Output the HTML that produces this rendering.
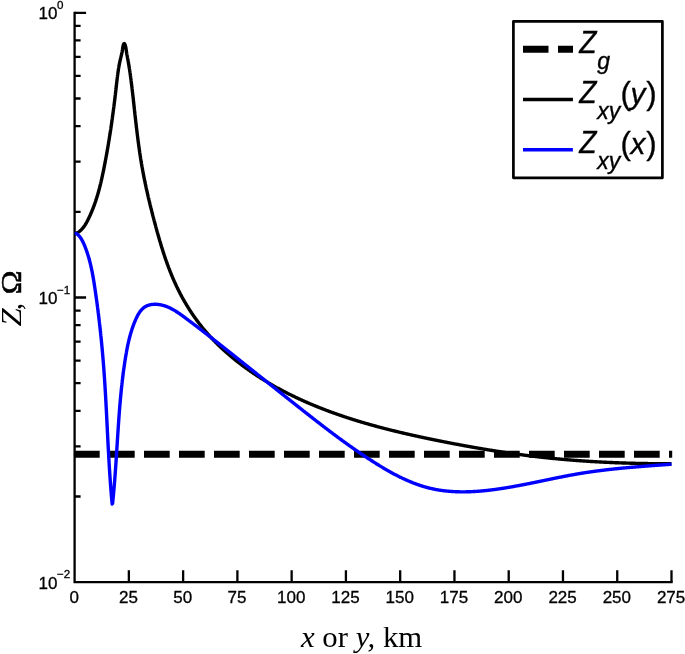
<!DOCTYPE html>
<html lang="en"><head><meta charset="utf-8"><title>Z plot</title>
<style>html,body{margin:0;padding:0;background:#fff;}body{width:685px;height:654px;position:relative;overflow:hidden;}</style></head>
<body>
<svg width="685" height="654" viewBox="0 0 685 654" style="position:absolute;left:0;top:0;filter:blur(0.4px)">
<rect width="685" height="654" fill="#fff"/>
<path d="M74,454.3 H672.2" stroke="#000" stroke-width="7" stroke-dasharray="25.7 9.3" fill="none"/>
<path d="M74.6,11.65 V582.2 H672.65" stroke="#000" stroke-width="2.3" fill="none" stroke-linejoin="miter"/>
<path d="M74.6,12.80 h11.5 M74.6,297.50 h11.5 M74.6,211.80 h6 M74.6,161.66 h6 M74.6,126.09 h6 M74.6,98.50 h6 M74.6,75.96 h6 M74.6,56.90 h6 M74.6,40.39 h6 M74.6,25.83 h6 M74.6,496.50 h6 M74.6,446.36 h6 M74.6,410.79 h6 M74.6,383.20 h6 M74.6,360.66 h6 M74.6,341.60 h6 M74.6,325.09 h6 M74.6,310.53 h6" stroke="#000" stroke-width="2.3" fill="none"/>
<path d="M128.86,582.2 v-12 M183.13,582.2 v-12 M237.39,582.2 v-12 M291.65,582.2 v-12 M345.92,582.2 v-12 M400.18,582.2 v-12 M454.45,582.2 v-12 M508.71,582.2 v-12 M562.97,582.2 v-12 M617.24,582.2 v-12 M671.50,582.2 v-12" stroke="#000" stroke-width="2.3" fill="none"/>
<path d="M74.71,233.52 L75.20,233.46 L75.68,233.36 L76.15,233.23 L76.61,233.07 L77.07,232.87 L77.52,232.65 L77.96,232.40 L78.38,232.14 L78.81,231.85 L79.22,231.55 L79.62,231.24 L80.01,230.91 L80.40,230.58 L80.77,230.23 L81.13,229.89 L81.49,229.53 L81.84,229.17 L82.17,228.80 L82.50,228.42 L82.83,228.04 L83.14,227.65 L83.45,227.26 L83.75,226.86 L84.04,226.46 L84.33,226.05 L84.61,225.64 L84.89,225.23 L85.16,224.81 L85.42,224.38 L85.68,223.95 L85.94,223.52 L86.19,223.09 L86.44,222.66 L86.68,222.22 L86.92,221.78 L87.15,221.33 L87.39,220.89 L87.62,220.44 L87.85,220.00 L88.07,219.55 L88.29,219.10 L88.52,218.65 L88.74,218.20 L88.95,217.75 L89.17,217.30 L89.38,216.85 L89.60,216.39 L89.81,215.94 L90.02,215.49 L90.22,215.03 L90.43,214.58 L90.63,214.12 L90.83,213.66 L91.03,213.20 L91.23,212.75 L91.43,212.29 L91.62,211.83 L91.81,211.37 L92.00,210.91 L92.19,210.44 L92.38,209.98 L92.57,209.52 L92.75,209.06 L92.93,208.59 L93.11,208.13 L93.29,207.66 L93.47,207.20 L93.65,206.73 L93.82,206.26 L94.00,205.79 L94.17,205.33 L94.34,204.86 L94.51,204.39 L94.67,203.92 L94.84,203.45 L95.00,202.98 L95.17,202.51 L95.33,202.03 L95.49,201.56 L95.65,201.09 L95.80,200.61 L95.96,200.14 L96.12,199.67 L96.27,199.19 L96.42,198.72 L96.57,198.24 L96.72,197.76 L96.87,197.29 L97.02,196.81 L97.16,196.33 L97.31,195.85 L97.45,195.38 L97.59,194.90 L97.73,194.42 L97.87,193.94 L98.01,193.46 L98.15,192.98 L98.28,192.50 L98.42,192.01 L98.55,191.53 L98.68,191.05 L98.82,190.57 L98.95,190.09 L99.08,189.60 L99.21,189.12 L99.33,188.64 L99.46,188.15 L99.59,187.67 L99.71,187.18 L99.83,186.70 L99.96,186.21 L100.08,185.73 L100.20,185.24 L100.32,184.76 L100.44,184.27 L100.56,183.78 L100.68,183.30 L100.79,182.81 L100.91,182.32 L101.02,181.83 L101.14,181.35 L101.25,180.86 L101.36,180.37 L101.48,179.88 L101.59,179.39 L101.70,178.90 L101.81,178.41 L101.92,177.92 L102.02,177.43 L102.13,176.95 L102.24,176.46 L102.35,175.97 L102.45,175.48 L102.56,174.98 L102.66,174.49 L102.77,174.00 L102.87,173.51 L102.97,173.02 L103.07,172.53 L103.18,172.04 L103.28,171.55 L103.38,171.06 L103.48,170.57 L103.58,170.08 L103.68,169.58 L103.78,169.09 L103.88,168.60 L103.97,168.11 L104.07,167.62 L104.17,167.13 L104.27,166.63 L104.36,166.14 L104.46,165.65 L104.56,165.16 L104.65,164.67 L104.75,164.17 L104.84,163.68 L104.94,163.19 L105.03,162.70 L105.13,162.21 L105.22,161.71 L105.31,161.22 L105.41,160.73 L105.50,160.24 L105.59,159.75 L105.68,159.25 L105.78,158.76 L105.87,158.27 L105.96,157.78 L106.05,157.28 L106.14,156.79 L106.23,156.30 L106.32,155.81 L106.41,155.31 L106.50,154.82 L106.59,154.33 L106.68,153.84 L106.77,153.34 L106.85,152.85 L106.94,152.36 L107.03,151.87 L107.12,151.37 L107.20,150.88 L107.29,150.39 L107.38,149.90 L107.46,149.40 L107.55,148.91 L107.63,148.42 L107.72,147.92 L107.80,147.43 L107.89,146.94 L107.97,146.45 L108.05,145.95 L108.14,145.46 L108.22,144.97 L108.30,144.47 L108.39,143.98 L108.47,143.49 L108.55,142.99 L108.63,142.50 L108.71,142.01 L108.79,141.51 L108.88,141.02 L108.96,140.53 L109.04,140.03 L109.12,139.54 L109.20,139.05 L109.28,138.55 L109.35,138.06 L109.43,137.57 L109.51,137.07 L109.59,136.58 L109.67,136.09 L109.75,135.59 L109.82,135.10 L109.90,134.61 L109.98,134.11 L110.06,133.62 L110.13,133.12 L110.21,132.63 L110.28,132.14 L110.36,131.64 L110.43,131.15 L110.51,130.65 L110.58,130.16 L110.66,129.67 L110.73,129.17 L110.81,128.68 L110.88,128.18 L110.96,127.69 L111.03,127.20 L111.10,126.70 L111.17,126.21 L111.25,125.71 L111.32,125.22 L111.39,124.72 L111.46,124.23 L111.53,123.74 L111.61,123.24 L111.68,122.75 L111.75,122.25 L111.82,121.76 L111.89,121.26 L111.96,120.77 L112.03,120.27 L112.10,119.78 L112.17,119.28 L112.24,118.79 L112.31,118.30 L112.37,117.80 L112.44,117.31 L112.51,116.81 L112.58,116.32 L112.65,115.82 L112.71,115.33 L112.78,114.83 L112.85,114.34 L112.92,113.84 L112.98,113.35 L113.05,112.85 L113.11,112.36 L113.18,111.86 L113.25,111.37 L113.31,110.87 L113.38,110.37 L113.44,109.88 L113.51,109.38 L113.57,108.89 L113.64,108.39 L113.70,107.90 L113.76,107.40 L113.83,106.91 L113.89,106.41 L113.95,105.92 L114.02,105.42 L114.08,104.92 L114.14,104.43 L114.21,103.93 L114.27,103.44 L114.33,102.94 L114.39,102.45 L114.45,101.95 L114.52,101.45 L114.58,100.96 L114.64,100.46 L114.70,99.97 L114.76,99.47 L114.82,98.97 L114.88,98.48 L114.94,97.98 L115.00,97.48 L115.06,96.99 L115.12,96.49 L115.18,96.00 L115.24,95.50 L115.30,95.00 L115.36,94.51 L115.41,94.01 L115.47,93.51 L115.53,93.02 L115.59,92.52 L115.65,92.02 L115.70,91.53 L115.76,91.03 L115.82,90.53 L115.88,90.04 L115.93,89.54 L115.99,89.04 L116.05,88.55 L116.10,88.05 L116.16,87.55 L116.22,87.06 L116.27,86.56 L116.33,86.06 L116.38,85.57 L116.44,85.07 L116.50,84.57 L116.55,84.07 L116.61,83.58 L116.66,83.08 L116.72,82.58 L116.78,82.09 L116.83,81.59 L116.89,81.09 L116.95,80.59 L117.00,80.10 L117.06,79.60 L117.12,79.10 L117.18,78.61 L117.24,78.11 L117.30,77.61 L117.36,77.12 L117.42,76.62 L117.49,76.13 L117.55,75.63 L117.61,75.13 L117.68,74.64 L117.74,74.14 L117.81,73.65 L117.88,73.15 L117.95,72.65 L118.02,72.16 L118.09,71.66 L118.16,71.17 L118.24,70.67 L118.31,70.18 L118.39,69.68 L118.46,69.19 L118.54,68.70 L118.62,68.20 L118.71,67.71 L118.79,67.21 L118.87,66.72 L118.96,66.23 L119.05,65.74 L119.14,65.24 L119.23,64.75 L119.33,64.26 L119.42,63.77 L119.52,63.27 L119.62,62.78 L119.72,62.29 L119.82,61.80 L119.93,61.31 L120.03,60.82 L120.14,60.33 L120.26,59.84 L120.37,59.35 L120.49,58.86 L120.60,58.37 L120.72,57.88 L120.85,57.40 L120.97,56.91 L121.09,56.42 L121.21,55.93 L121.33,55.45 L121.45,54.96 L121.56,54.48 L121.68,53.99 L121.79,53.50 L121.89,53.02 L121.99,52.53 L122.09,52.05 L122.18,51.57 L122.26,51.08 L122.34,50.60 L122.40,50.12 L122.47,49.64 L122.53,49.15 L122.59,48.66 L122.65,48.17 L122.73,47.68 L122.81,47.17 L122.91,46.66 L123.03,46.15 L123.17,45.62 L123.33,45.08 L123.52,44.54 L123.74,44.06 L123.96,43.70 L124.20,43.53 L124.44,43.61 L124.67,43.89 L124.89,44.33 L125.10,44.85 L125.28,45.39 L125.44,45.92 L125.58,46.44 L125.70,46.95 L125.80,47.45 L125.89,47.95 L125.97,48.44 L126.04,48.92 L126.11,49.41 L126.17,49.89 L126.24,50.37 L126.31,50.85 L126.38,51.34 L126.45,51.82 L126.53,52.31 L126.61,52.80 L126.69,53.29 L126.78,53.77 L126.86,54.27 L126.95,54.76 L127.04,55.25 L127.13,55.74 L127.22,56.23 L127.32,56.73 L127.41,57.22 L127.50,57.72 L127.60,58.21 L127.69,58.71 L127.78,59.20 L127.88,59.70 L127.97,60.19 L128.06,60.69 L128.15,61.18 L128.24,61.68 L128.33,62.17 L128.41,62.67 L128.50,63.16 L128.59,63.66 L128.67,64.15 L128.76,64.64 L128.84,65.14 L128.92,65.63 L129.00,66.13 L129.08,66.62 L129.16,67.12 L129.24,67.61 L129.32,68.11 L129.40,68.60 L129.47,69.10 L129.55,69.59 L129.63,70.08 L129.70,70.58 L129.78,71.07 L129.85,71.57 L129.92,72.06 L129.99,72.56 L130.07,73.05 L130.14,73.54 L130.21,74.04 L130.28,74.53 L130.35,75.03 L130.42,75.52 L130.48,76.02 L130.55,76.51 L130.62,77.00 L130.68,77.50 L130.75,77.99 L130.82,78.49 L130.88,78.98 L130.95,79.48 L131.01,79.97 L131.07,80.47 L131.14,80.96 L131.20,81.45 L131.26,81.95 L131.32,82.44 L131.39,82.94 L131.45,83.43 L131.51,83.93 L131.57,84.42 L131.63,84.92 L131.69,85.41 L131.75,85.91 L131.81,86.40 L131.87,86.90 L131.93,87.39 L131.99,87.89 L132.05,88.38 L132.10,88.88 L132.16,89.37 L132.22,89.87 L132.28,90.37 L132.33,90.86 L132.39,91.36 L132.45,91.85 L132.51,92.35 L132.56,92.84 L132.62,93.34 L132.68,93.84 L132.73,94.33 L132.79,94.83 L132.85,95.33 L132.90,95.82 L132.96,96.32 L133.01,96.81 L133.07,97.31 L133.13,97.81 L133.18,98.31 L133.24,98.80 L133.29,99.30 L133.35,99.80 L133.40,100.29 L133.46,100.79 L133.52,101.29 L133.57,101.78 L133.63,102.28 L133.68,102.78 L133.74,103.28 L133.79,103.77 L133.85,104.27 L133.90,104.77 L133.96,105.27 L134.01,105.76 L134.07,106.26 L134.12,106.76 L134.18,107.26 L134.23,107.75 L134.29,108.25 L134.34,108.75 L134.40,109.25 L134.45,109.75 L134.51,110.24 L134.56,110.74 L134.62,111.24 L134.67,111.74 L134.73,112.24 L134.78,112.73 L134.84,113.23 L134.89,113.73 L134.95,114.23 L135.00,114.73 L135.06,115.22 L135.12,115.72 L135.17,116.22 L135.23,116.72 L135.28,117.22 L135.34,117.72 L135.39,118.21 L135.45,118.71 L135.51,119.21 L135.56,119.71 L135.62,120.21 L135.68,120.70 L135.73,121.20 L135.79,121.70 L135.85,122.20 L135.90,122.70 L135.96,123.20 L136.02,123.69 L136.08,124.19 L136.13,124.69 L136.19,125.19 L136.25,125.69 L136.31,126.18 L136.36,126.68 L136.42,127.18 L136.48,127.68 L136.54,128.18 L136.60,128.67 L136.66,129.17 L136.72,129.67 L136.78,130.17 L136.84,130.67 L136.90,131.16 L136.96,131.66 L137.02,132.16 L137.08,132.66 L137.14,133.15 L137.20,133.65 L137.26,134.15 L137.32,134.65 L137.38,135.14 L137.45,135.64 L137.51,136.14 L137.57,136.64 L137.63,137.13 L137.70,137.63 L137.76,138.13 L137.82,138.62 L137.89,139.12 L137.95,139.62 L138.01,140.12 L138.08,140.61 L138.14,141.11 L138.21,141.61 L138.28,142.10 L138.34,142.60 L138.41,143.10 L138.47,143.59 L138.54,144.09 L138.61,144.58 L138.67,145.08 L138.74,145.58 L138.81,146.07 L138.88,146.57 L138.95,147.07 L139.02,147.56 L139.09,148.06 L139.16,148.55 L139.23,149.05 L139.30,149.54 L139.37,150.04 L139.44,150.53 L139.51,151.03 L139.58,151.52 L139.66,152.02 L139.73,152.51 L139.80,153.01 L139.88,153.50 L139.95,154.00 L140.02,154.49 L140.10,154.99 L140.17,155.48 L140.25,155.98 L140.33,156.47 L140.40,156.96 L140.48,157.46 L140.56,157.95 L140.64,158.44 L140.71,158.94 L140.79,159.43 L140.87,159.92 L140.95,160.42 L141.03,160.91 L141.11,161.40 L141.19,161.90 L141.28,162.39 L141.36,162.88 L141.44,163.37 L141.52,163.87 L141.61,164.36 L141.69,164.85 L141.78,165.34 L141.86,165.83 L141.95,166.32 L142.03,166.82 L142.12,167.31 L142.21,167.80 L142.29,168.29 L142.38,168.78 L142.47,169.27 L142.56,169.76 L142.65,170.25 L142.74,170.74 L142.83,171.23 L142.92,171.72 L143.01,172.21 L143.11,172.70 L143.20,173.19 L143.29,173.68 L143.39,174.17 L143.48,174.66 L143.57,175.15 L143.67,175.64 L143.76,176.13 L143.86,176.62 L143.96,177.10 L144.05,177.59 L144.15,178.08 L144.25,178.57 L144.35,179.06 L144.44,179.55 L144.54,180.04 L144.64,180.52 L144.74,181.01 L144.84,181.50 L144.94,181.99 L145.05,182.47 L145.15,182.96 L145.25,183.45 L145.35,183.94 L145.46,184.42 L145.56,184.91 L145.66,185.40 L145.77,185.89 L145.87,186.37 L145.98,186.86 L146.08,187.35 L146.19,187.83 L146.29,188.32 L146.40,188.81 L146.51,189.29 L146.62,189.78 L146.72,190.26 L146.83,190.75 L146.94,191.24 L147.05,191.72 L147.16,192.21 L147.27,192.70 L147.38,193.18 L147.49,193.67 L147.60,194.15 L147.71,194.64 L147.82,195.12 L147.94,195.61 L148.05,196.10 L148.16,196.58 L148.27,197.07 L148.39,197.55 L148.50,198.04 L148.62,198.52 L148.73,199.01 L148.85,199.49 L148.96,199.98 L149.08,200.46 L149.19,200.95 L149.31,201.43 L149.43,201.92 L149.54,202.40 L149.66,202.89 L149.78,203.37 L149.90,203.86 L150.02,204.34 L150.13,204.83 L150.25,205.31 L150.37,205.80 L150.49,206.28 L150.61,206.76 L150.73,207.25 L150.85,207.73 L150.97,208.22 L151.10,208.70 L151.22,209.19 L151.34,209.67 L151.46,210.16 L151.58,210.64 L151.71,211.12 L151.83,211.61 L151.95,212.09 L152.08,212.58 L152.20,213.06 L152.33,213.55 L152.45,214.03 L152.58,214.51 L152.70,215.00 L152.83,215.48 L152.95,215.97 L153.08,216.45 L153.20,216.94 L153.33,217.42 L153.46,217.90 L153.58,218.39 L153.71,218.87 L153.84,219.36 L153.97,219.84 L154.09,220.33 L154.22,220.81 L154.35,221.30 L154.48,221.78 L154.61,222.26 L154.74,222.75 L154.87,223.23 L155.00,223.72 L155.13,224.20 L155.26,224.69 L155.39,225.17 L155.52,225.65 L155.65,226.14 L155.78,226.62 L155.91,227.11 L156.05,227.59 L156.18,228.08 L156.31,228.56 L156.44,229.05 L156.58,229.53 L156.71,230.01 L156.84,230.50 L156.98,230.98 L157.11,231.47 L157.25,231.95 L157.38,232.44 L157.52,232.92 L157.65,233.40 L157.79,233.89 L157.92,234.37 L158.06,234.86 L158.20,235.34 L158.33,235.82 L158.47,236.31 L158.61,236.79 L158.75,237.27 L158.89,237.76 L159.03,238.24 L159.17,238.72 L159.31,239.21 L159.45,239.69 L159.59,240.17 L159.73,240.65 L159.87,241.14 L160.02,241.62 L160.16,242.10 L160.30,242.58 L160.45,243.07 L160.59,243.55 L160.73,244.03 L160.88,244.51 L161.03,244.99 L161.17,245.47 L161.32,245.95 L161.47,246.43 L161.61,246.92 L161.76,247.40 L161.91,247.88 L162.06,248.36 L162.21,248.84 L162.36,249.32 L162.51,249.80 L162.66,250.27 L162.82,250.75 L162.97,251.23 L163.12,251.71 L163.28,252.19 L163.43,252.67 L163.59,253.15 L163.74,253.62 L163.90,254.10 L164.06,254.58 L164.21,255.06 L164.37,255.53 L164.53,256.01 L164.69,256.48 L164.85,256.96 L165.01,257.44 L165.17,257.91 L165.34,258.39 L165.50,258.86 L165.66,259.34 L165.83,259.81 L165.99,260.28 L166.16,260.76 L166.32,261.23 L166.49,261.70 L166.66,262.18 L166.83,262.65 L167.00,263.12 L167.17,263.59 L167.34,264.07 L167.51,264.54 L167.68,265.01 L167.85,265.48 L168.03,265.95 L168.20,266.42 L168.38,266.89 L168.55,267.36 L168.73,267.82 L168.91,268.29 L169.09,268.76 L169.27,269.23 L169.45,269.70 L169.63,270.16 L169.81,270.63 L169.99,271.09 L170.17,271.56 L170.36,272.03 L170.54,272.49 L170.73,272.95 L170.92,273.42 L171.10,273.88 L171.29,274.35 L171.48,274.81 L171.67,275.27 L171.86,275.73 L172.06,276.19 L172.25,276.65 L172.44,277.12 L172.64,277.58 L172.83,278.03 L173.03,278.49 L173.23,278.95 L173.43,279.41 L173.63,279.87 L173.83,280.33 L174.03,280.78 L174.23,281.24 L174.44,281.69 L174.64,282.15 L174.84,282.60 L175.05,283.06 L175.26,283.51 L175.47,283.97 L175.68,284.42 L175.89,284.87 L176.10,285.32 L176.31,285.77 L176.52,286.23 L176.74,286.68 L176.95,287.12 L177.17,287.57 L177.39,288.02 L177.61,288.47 L177.83,288.92 L178.05,289.37 L178.27,289.81 L178.49,290.26 L178.71,290.70 L178.94,291.15 L179.16,291.59 L179.39,292.04 L179.62,292.48 L179.84,292.92 L180.07,293.36 L180.30,293.81 L180.54,294.25 L180.77,294.69 L181.00,295.13 L181.24,295.57 L181.47,296.00 L181.71,296.44 L181.95,296.88 L182.18,297.32 L182.42,297.75 L182.66,298.19 L182.90,298.62 L183.15,299.06 L183.39,299.49 L183.64,299.93 L183.88,300.36 L184.13,300.79 L184.37,301.22 L184.62,301.65 L184.87,302.08 L185.12,302.51 L185.37,302.94 L185.63,303.37 L185.88,303.80 L186.14,304.23 L186.39,304.65 L186.65,305.08 L186.91,305.51 L187.16,305.93 L187.42,306.35 L187.68,306.78 L187.95,307.20 L188.21,307.62 L188.47,308.04 L188.74,308.47 L189.00,308.89 L189.27,309.31 L189.54,309.72 L189.81,310.14 L190.08,310.56 L190.35,310.98 L190.62,311.39 L190.89,311.81 L191.16,312.22 L191.44,312.64 L191.72,313.05 L191.99,313.47 L192.27,313.88 L192.55,314.29 L192.83,314.70 L193.11,315.11 L193.39,315.52 L193.68,315.93 L193.96,316.34 L194.24,316.74 L194.53,317.15 L194.82,317.56 L195.11,317.96 L195.40,318.37 L195.69,318.77 L195.98,319.17 L196.27,319.58 L196.56,319.98 L196.86,320.38 L197.15,320.78 L197.45,321.18 L197.75,321.58 L198.04,321.98 L198.34,322.38 L198.64,322.77 L198.95,323.17 L199.25,323.56 L199.55,323.96 L199.86,324.35 L200.16,324.74 L200.47,325.14 L200.78,325.53 L201.09,325.92 L201.40,326.31 L201.71,326.70 L202.02,327.09 L202.33,327.48 L202.65,327.86 L202.96,328.25 L203.28,328.63 L203.59,329.02 L203.91,329.40 L204.23,329.79 L204.55,330.17 L204.87,330.55 L205.20,330.93 L205.52,331.31 L205.84,331.69 L206.17,332.07 L206.50,332.45 L206.82,332.82 L207.15,333.20 L207.48,333.57 L207.81,333.95 L208.14,334.32 L208.48,334.70 L208.81,335.07 L209.14,335.44 L209.48,335.81 L209.82,336.18 L210.15,336.55 L210.49,336.92 L210.83,337.28 L211.17,337.65 L211.51,338.02 L211.85,338.38 L212.20,338.75 L212.54,339.11 L212.89,339.47 L213.23,339.84 L213.58,340.20 L213.93,340.56 L214.28,340.92 L214.63,341.28 L214.98,341.63 L215.33,341.99 L215.68,342.35 L216.03,342.70 L216.39,343.06 L216.74,343.41 L217.10,343.77 L217.46,344.12 L217.81,344.47 L218.17,344.82 L218.53,345.17 L218.89,345.52 L219.25,345.87 L219.61,346.22 L219.98,346.56 L220.34,346.91 L220.71,347.26 L221.07,347.60 L221.44,347.95 L221.80,348.29 L222.17,348.63 L222.54,348.97 L222.91,349.31 L223.28,349.65 L223.65,349.99 L224.02,350.33 L224.40,350.67 L224.77,351.01 L225.14,351.34 L225.52,351.68 L225.89,352.01 L226.27,352.35 L226.65,352.68 L227.02,353.01 L227.40,353.35 L227.78,353.68 L228.16,354.01 L228.54,354.34 L228.93,354.67 L229.31,354.99 L229.69,355.32 L230.07,355.65 L230.46,355.97 L230.84,356.30 L231.23,356.62 L231.62,356.94 L232.00,357.27 L232.39,357.59 L232.78,357.91 L233.17,358.23 L233.56,358.55 L233.95,358.87 L234.34,359.19 L234.73,359.50 L235.13,359.82 L235.52,360.13 L235.91,360.45 L236.31,360.76 L236.70,361.08 L237.10,361.39 L237.50,361.70 L237.89,362.01 L238.29,362.32 L238.69,362.63 L239.09,362.94 L239.49,363.25 L239.89,363.56 L240.29,363.86 L240.69,364.17 L241.09,364.47 L241.49,364.78 L241.90,365.08 L242.30,365.38 L242.70,365.68 L243.11,365.98 L243.51,366.29 L243.92,366.58 L244.33,366.88 L244.73,367.18 L245.14,367.48 L245.55,367.78 L245.96,368.07 L246.37,368.37 L246.78,368.66 L247.19,368.95 L247.60,369.25 L248.01,369.54 L248.42,369.83 L248.83,370.12 L249.24,370.41 L249.66,370.70 L250.07,370.99 L250.48,371.27 L250.90,371.56 L251.31,371.85 L251.73,372.13 L252.14,372.42 L252.56,372.70 L252.98,372.98 L253.39,373.26 L253.81,373.55 L254.23,373.83 L254.65,374.11 L255.07,374.39 L255.48,374.66 L255.90,374.94 L256.32,375.22 L256.74,375.49 L257.17,375.77 L257.59,376.04 L258.01,376.32 L258.43,376.59 L258.85,376.86 L259.28,377.13 L259.70,377.41 L260.12,377.68 L260.55,377.94 L260.97,378.21 L261.39,378.48 L261.82,378.75 L262.24,379.01 L262.67,379.28 L263.10,379.54 L263.52,379.81 L263.95,380.07 L264.38,380.33 L264.80,380.60 L265.23,380.86 L265.66,381.12 L266.09,381.38 L266.52,381.64 L266.95,381.90 L267.38,382.15 L267.81,382.41 L268.24,382.67 L268.67,382.92 L269.10,383.18 L269.53,383.43 L269.96,383.68 L270.39,383.94 L270.82,384.19 L271.26,384.44 L271.69,384.69 L272.12,384.94 L272.56,385.19 L272.99,385.44 L273.42,385.68 L273.86,385.93 L274.29,386.18 L274.73,386.42 L275.16,386.67 L275.60,386.91 L276.04,387.15 L276.47,387.40 L276.91,387.64 L277.35,387.88 L277.78,388.12 L278.22,388.36 L278.66,388.60 L279.10,388.84 L279.54,389.08 L279.98,389.31 L280.42,389.55 L280.86,389.79 L281.30,390.02 L281.74,390.26 L282.18,390.49 L282.62,390.72 L283.06,390.96 L283.50,391.19 L283.94,391.42 L284.38,391.65 L284.83,391.88 L285.27,392.11 L285.71,392.34 L286.16,392.56 L286.60,392.79 L287.04,393.02 L287.49,393.24 L287.93,393.47 L288.38,393.69 L288.82,393.92 L289.27,394.14 L289.71,394.37 L290.16,394.59 L290.61,394.81 L291.05,395.03 L291.50,395.25 L291.95,395.47 L292.40,395.69 L292.84,395.91 L293.29,396.12 L293.74,396.34 L294.19,396.56 L294.64,396.77 L295.09,396.99 L295.54,397.20 L295.99,397.42 L296.44,397.63 L296.89,397.84 L297.34,398.06 L297.79,398.27 L298.24,398.48 L298.69,398.69 L299.14,398.90 L299.59,399.11 L300.05,399.32 L300.50,399.52 L300.95,399.73 L301.41,399.94 L301.86,400.14 L302.31,400.35 L302.77,400.55 L303.22,400.76 L303.67,400.96 L304.13,401.16 L304.58,401.37 L305.04,401.57 L305.49,401.77 L305.95,401.97 L306.41,402.17 L306.86,402.37 L307.32,402.57 L307.78,402.77 L308.23,402.97 L308.69,403.16 L309.15,403.36 L309.60,403.56 L310.06,403.75 L310.52,403.95 L310.98,404.14 L311.44,404.34 L311.90,404.53 L312.36,404.72 L312.82,404.91 L313.27,405.11 L313.73,405.30 L314.19,405.49 L314.65,405.68 L315.12,405.87 L315.58,406.06 L316.04,406.24 L316.50,406.43 L316.96,406.62 L317.42,406.81 L317.88,406.99 L318.35,407.18 L318.81,407.36 L319.27,407.55 L319.73,407.73 L320.20,407.91 L320.66,408.10 L321.12,408.28 L321.59,408.46 L322.05,408.64 L322.52,408.82 L322.98,409.00 L323.44,409.18 L323.91,409.36 L324.37,409.54 L324.84,409.72 L325.31,409.90 L325.77,410.07 L326.24,410.25 L326.70,410.43 L327.17,410.60 L327.64,410.78 L328.10,410.95 L328.57,411.13 L329.04,411.30 L329.50,411.47 L329.97,411.65 L330.44,411.82 L330.91,411.99 L331.37,412.16 L331.84,412.33 L332.31,412.50 L332.78,412.67 L333.25,412.84 L333.72,413.01 L334.19,413.18 L334.66,413.35 L335.13,413.51 L335.60,413.68 L336.07,413.85 L336.54,414.01 L337.01,414.18 L337.48,414.34 L337.95,414.51 L338.42,414.67 L338.89,414.83 L339.36,415.00 L339.83,415.16 L340.31,415.32 L340.78,415.48 L341.25,415.64 L341.72,415.81 L342.19,415.97 L342.67,416.13 L343.14,416.28 L343.61,416.44 L344.09,416.60 L344.56,416.76 L345.03,416.92 L345.51,417.07 L345.98,417.23 L346.45,417.39 L346.93,417.54 L347.40,417.70 L347.88,417.85 L348.35,418.01 L348.83,418.16 L349.30,418.31 L349.78,418.47 L350.25,418.62 L350.73,418.77 L351.20,418.92 L351.68,419.08 L352.15,419.23 L352.63,419.38 L353.11,419.53 L353.58,419.68 L354.06,419.83 L354.53,419.97 L355.01,420.12 L355.49,420.27 L355.97,420.42 L356.44,420.57 L356.92,420.71 L357.40,420.86 L357.88,421.01 L358.35,421.15 L358.83,421.30 L359.31,421.44 L359.79,421.58 L360.27,421.73 L360.74,421.87 L361.22,422.02 L361.70,422.16 L362.18,422.30 L362.66,422.44 L363.14,422.58 L363.62,422.72 L364.10,422.87 L364.58,423.01 L365.06,423.15 L365.54,423.29 L366.02,423.42 L366.50,423.56 L366.98,423.70 L367.46,423.84 L367.94,423.98 L368.42,424.12 L368.90,424.25 L369.38,424.39 L369.86,424.52 L370.34,424.66 L370.83,424.80 L371.31,424.93 L371.79,425.07 L372.27,425.20 L372.75,425.33 L373.24,425.47 L373.72,425.60 L374.20,425.73 L374.68,425.87 L375.16,426.00 L375.65,426.13 L376.13,426.26 L376.61,426.39 L377.10,426.52 L377.58,426.65 L378.06,426.78 L378.55,426.91 L379.03,427.04 L379.51,427.17 L380.00,427.30 L380.48,427.43 L380.96,427.56 L381.45,427.69 L381.93,427.81 L382.42,427.94 L382.90,428.07 L383.38,428.19 L383.87,428.32 L384.35,428.45 L384.84,428.57 L385.32,428.70 L385.81,428.82 L386.29,428.95 L386.78,429.07 L387.26,429.19 L387.75,429.32 L388.23,429.44 L388.72,429.56 L389.20,429.69 L389.69,429.81 L390.18,429.93 L390.66,430.05 L391.15,430.17 L391.63,430.29 L392.12,430.41 L392.61,430.53 L393.09,430.65 L393.58,430.77 L394.07,430.89 L394.55,431.01 L395.04,431.13 L395.53,431.25 L396.01,431.37 L396.50,431.49 L396.99,431.60 L397.47,431.72 L397.96,431.84 L398.45,431.96 L398.94,432.07 L399.42,432.19 L399.91,432.31 L400.40,432.42 L400.89,432.54 L401.37,432.65 L401.86,432.77 L402.35,432.88 L402.84,433.00 L403.32,433.11 L403.81,433.22 L404.30,433.34 L404.79,433.45 L405.28,433.56 L405.77,433.68 L406.25,433.79 L406.74,433.90 L407.23,434.01 L407.72,434.13 L408.21,434.24 L408.70,434.35 L409.19,434.46 L409.67,434.57 L410.16,434.68 L410.65,434.79 L411.14,434.90 L411.63,435.01 L412.12,435.12 L412.61,435.23 L413.10,435.34 L413.59,435.45 L414.08,435.56 L414.57,435.67 L415.06,435.77 L415.54,435.88 L416.03,435.99 L416.52,436.10 L417.01,436.20 L417.50,436.31 L417.99,436.42 L418.48,436.52 L418.97,436.63 L419.46,436.74 L419.95,436.84 L420.44,436.95 L420.93,437.05 L421.42,437.16 L421.91,437.26 L422.40,437.37 L422.89,437.47 L423.38,437.58 L423.87,437.68 L424.36,437.79 L424.85,437.89 L425.34,437.99 L425.83,438.10 L426.33,438.20 L426.82,438.30 L427.31,438.41 L427.80,438.51 L428.29,438.61 L428.78,438.71 L429.27,438.82 L429.76,438.92 L430.25,439.02 L430.74,439.12 L431.23,439.22 L431.72,439.32 L432.21,439.43 L432.70,439.53 L433.19,439.63 L433.68,439.73 L434.18,439.83 L434.67,439.93 L435.16,440.03 L435.65,440.13 L436.14,440.23 L436.63,440.33 L437.12,440.43 L437.61,440.52 L438.10,440.62 L438.59,440.72 L439.09,440.82 L439.58,440.92 L440.07,441.02 L440.56,441.12 L441.05,441.21 L441.54,441.31 L442.03,441.41 L442.52,441.51 L443.01,441.60 L443.50,441.70 L444.00,441.80 L444.49,441.90 L444.98,441.99 L445.47,442.09 L445.96,442.19 L446.45,442.28 L446.94,442.38 L447.43,442.47 L447.93,442.57 L448.42,442.67 L448.91,442.76 L449.40,442.86 L449.89,442.95 L450.38,443.05 L450.87,443.14 L451.36,443.24 L451.86,443.33 L452.35,443.42 L452.84,443.52 L453.33,443.61 L453.82,443.71 L454.31,443.80 L454.80,443.89 L455.29,443.99 L455.79,444.08 L456.28,444.17 L456.77,444.27 L457.26,444.36 L457.75,444.45 L458.24,444.54 L458.73,444.63 L459.23,444.73 L459.72,444.82 L460.21,444.91 L460.70,445.00 L461.19,445.09 L461.68,445.18 L462.18,445.27 L462.67,445.36 L463.16,445.46 L463.65,445.55 L464.14,445.64 L464.63,445.73 L465.13,445.82 L465.62,445.91 L466.11,445.99 L466.60,446.08 L467.09,446.17 L467.58,446.26 L468.08,446.35 L468.57,446.44 L469.06,446.53 L469.55,446.62 L470.04,446.70 L470.54,446.79 L471.03,446.88 L471.52,446.97 L472.01,447.05 L472.50,447.14 L473.00,447.23 L473.49,447.31 L473.98,447.40 L474.47,447.49 L474.96,447.57 L475.46,447.66 L475.95,447.74 L476.44,447.83 L476.93,447.91 L477.43,448.00 L477.92,448.08 L478.41,448.17 L478.90,448.25 L479.39,448.34 L479.89,448.42 L480.38,448.51 L480.87,448.59 L481.36,448.67 L481.86,448.76 L482.35,448.84 L482.84,448.92 L483.33,449.01 L483.83,449.09 L484.32,449.17 L484.81,449.25 L485.30,449.33 L485.80,449.42 L486.29,449.50 L486.78,449.58 L487.27,449.66 L487.77,449.74 L488.26,449.82 L488.75,449.90 L489.25,449.98 L489.74,450.06 L490.23,450.14 L490.72,450.22 L491.22,450.30 L491.71,450.38 L492.20,450.46 L492.70,450.54 L493.19,450.62 L493.68,450.70 L494.18,450.77 L494.67,450.85 L495.16,450.93 L495.65,451.01 L496.15,451.09 L496.64,451.16 L497.13,451.24 L497.63,451.32 L498.12,451.39 L498.61,451.47 L499.11,451.55 L499.60,451.62 L500.09,451.70 L500.59,451.77 L501.08,451.85 L501.57,451.92 L502.07,452.00 L502.56,452.07 L503.06,452.15 L503.55,452.22 L504.04,452.29 L504.54,452.37 L505.03,452.44 L505.52,452.52 L506.02,452.59 L506.51,452.66 L507.01,452.73 L507.50,452.81 L507.99,452.88 L508.49,452.95 L508.98,453.02 L509.48,453.09 L509.97,453.16 L510.46,453.24 L510.96,453.31 L511.45,453.38 L511.95,453.45 L512.44,453.52 L512.93,453.59 L513.43,453.66 L513.92,453.73 L514.42,453.80 L514.91,453.86 L515.41,453.93 L515.90,454.00 L516.40,454.07 L516.89,454.14 L517.38,454.21 L517.88,454.27 L518.37,454.34 L518.87,454.41 L519.36,454.47 L519.86,454.54 L520.35,454.61 L520.85,454.67 L521.34,454.74 L521.84,454.80 L522.33,454.87 L522.83,454.94 L523.32,455.00 L523.82,455.07 L524.31,455.13 L524.81,455.19 L525.30,455.26 L525.80,455.32 L526.29,455.38 L526.79,455.45 L527.28,455.51 L527.78,455.57 L528.27,455.64 L528.77,455.70 L529.27,455.76 L529.76,455.82 L530.26,455.88 L530.75,455.95 L531.25,456.01 L531.74,456.07 L532.24,456.13 L532.73,456.19 L533.23,456.25 L533.73,456.31 L534.22,456.37 L534.72,456.43 L535.21,456.49 L535.71,456.54 L536.21,456.60 L536.70,456.66 L537.20,456.72 L537.69,456.78 L538.19,456.83 L538.69,456.89 L539.18,456.95 L539.68,457.00 L540.18,457.06 L540.67,457.12 L541.17,457.17 L541.67,457.23 L542.16,457.28 L542.66,457.34 L543.16,457.39 L543.65,457.45 L544.15,457.50 L544.65,457.56 L545.14,457.61 L545.64,457.66 L546.14,457.72 L546.63,457.77 L547.13,457.82 L547.63,457.88 L548.12,457.93 L548.62,457.98 L549.12,458.03 L549.62,458.08 L550.11,458.14 L550.61,458.19 L551.11,458.24 L551.61,458.29 L552.10,458.34 L552.60,458.39 L553.10,458.44 L553.60,458.49 L554.09,458.53 L554.59,458.58 L555.09,458.63 L555.59,458.68 L556.08,458.73 L556.58,458.78 L557.08,458.82 L557.58,458.87 L558.08,458.92 L558.57,458.96 L559.07,459.01 L559.57,459.06 L560.07,459.10 L560.57,459.15 L561.07,459.19 L561.56,459.24 L562.06,459.28 L562.56,459.33 L563.06,459.37 L563.56,459.42 L564.06,459.46 L564.55,459.50 L565.05,459.55 L565.55,459.59 L566.05,459.63 L566.55,459.68 L567.05,459.72 L567.55,459.76 L568.04,459.80 L568.54,459.84 L569.04,459.89 L569.54,459.93 L570.04,459.97 L570.54,460.01 L571.04,460.05 L571.54,460.09 L572.04,460.13 L572.53,460.17 L573.03,460.21 L573.53,460.25 L574.03,460.28 L574.53,460.32 L575.03,460.36 L575.53,460.40 L576.03,460.44 L576.53,460.48 L577.03,460.51 L577.53,460.55 L578.03,460.59 L578.53,460.62 L579.02,460.66 L579.52,460.70 L580.02,460.73 L580.52,460.77 L581.02,460.80 L581.52,460.84 L582.02,460.87 L582.52,460.91 L583.02,460.94 L583.52,460.98 L584.02,461.01 L584.52,461.04 L585.02,461.08 L585.52,461.11 L586.02,461.14 L586.52,461.18 L587.02,461.21 L587.52,461.24 L588.02,461.27 L588.52,461.31 L589.02,461.34 L589.52,461.37 L590.02,461.40 L590.52,461.43 L591.02,461.46 L591.52,461.49 L592.02,461.52 L592.52,461.55 L593.02,461.58 L593.52,461.61 L594.02,461.64 L594.52,461.67 L595.02,461.70 L595.52,461.73 L596.02,461.76 L596.52,461.78 L597.02,461.81 L597.52,461.84 L598.02,461.87 L598.52,461.90 L599.02,461.92 L599.52,461.95 L600.02,461.98 L600.52,462.00 L601.02,462.03 L601.52,462.05 L602.02,462.08 L602.52,462.11 L603.02,462.13 L603.52,462.16 L604.02,462.18 L604.52,462.21 L605.02,462.23 L605.52,462.26 L606.02,462.28 L606.52,462.30 L607.02,462.33 L607.52,462.35 L608.02,462.37 L608.52,462.40 L609.02,462.42 L609.52,462.44 L610.02,462.46 L610.52,462.49 L611.02,462.51 L611.52,462.53 L612.02,462.55 L612.52,462.57 L613.02,462.59 L613.53,462.61 L614.03,462.63 L614.53,462.66 L615.03,462.68 L615.53,462.70 L616.03,462.72 L616.53,462.74 L617.03,462.75 L617.53,462.77 L618.03,462.79 L618.53,462.81 L619.03,462.83 L619.53,462.85 L620.03,462.87 L620.53,462.88 L621.03,462.90 L621.53,462.92 L622.03,462.94 L622.53,462.95 L623.03,462.97 L623.53,462.99 L624.03,463.00 L624.53,463.02 L625.03,463.04 L625.53,463.05 L626.03,463.07 L626.53,463.08 L627.03,463.10 L627.53,463.12 L628.03,463.13 L628.53,463.15 L629.03,463.16 L629.53,463.17 L630.03,463.19 L630.53,463.20 L631.03,463.22 L631.53,463.23 L632.03,463.24 L632.53,463.26 L633.03,463.27 L633.53,463.28 L634.03,463.30 L634.53,463.31 L635.03,463.32 L635.53,463.33 L636.03,463.34 L636.53,463.36 L637.03,463.37 L637.53,463.38 L638.03,463.39 L638.53,463.40 L639.03,463.41 L639.53,463.42 L640.03,463.43 L640.53,463.44 L641.03,463.45 L641.53,463.46 L642.03,463.47 L642.53,463.48 L643.03,463.49 L643.53,463.50 L644.03,463.51 L644.53,463.52 L645.03,463.53 L645.53,463.54 L646.03,463.54 L646.53,463.55 L647.03,463.56 L647.53,463.57 L648.03,463.58 L648.53,463.58 L649.03,463.59 L649.53,463.60 L650.03,463.60 L650.52,463.61 L651.02,463.62 L651.52,463.62 L652.02,463.63 L652.52,463.64 L653.02,463.64 L653.52,463.65 L654.02,463.65 L654.52,463.66 L655.02,463.66 L655.52,463.67 L656.02,463.67 L656.51,463.68 L657.01,463.68 L657.51,463.69 L658.01,463.69 L658.51,463.69 L659.01,463.70 L659.51,463.70 L660.01,463.70 L660.51,463.71 L661.00,463.71 L661.50,463.71 L662.00,463.72 L662.50,463.72 L663.00,463.72 L663.50,463.72 L664.00,463.73 L664.49,463.73 L664.99,463.73 L665.49,463.73 L665.99,463.73 L666.49,463.73 L666.99,463.74 L667.48,463.74 L667.98,463.74 L668.48,463.74 L668.98,463.74 L669.48,463.74 L669.98,463.74 L670.47,463.74 L670.97,463.74 L671.47,463.74" stroke="#000" stroke-width="3.4" fill="none" stroke-linejoin="round" stroke-linecap="butt"/>
<path d="M74.68,233.51 L75.24,233.50 L75.77,233.56 L76.25,233.68 L76.71,233.86 L77.14,234.10 L77.54,234.37 L77.91,234.68 L78.27,235.02 L78.61,235.38 L78.94,235.75 L79.26,236.14 L79.58,236.53 L79.88,236.92 L80.18,237.32 L80.46,237.73 L80.74,238.14 L81.02,238.56 L81.29,238.98 L81.55,239.41 L81.80,239.84 L82.05,240.27 L82.29,240.71 L82.53,241.16 L82.76,241.60 L82.98,242.05 L83.20,242.50 L83.42,242.96 L83.63,243.42 L83.84,243.88 L84.04,244.34 L84.24,244.80 L84.44,245.27 L84.63,245.73 L84.82,246.20 L85.01,246.67 L85.19,247.14 L85.38,247.61 L85.56,248.08 L85.73,248.55 L85.91,249.03 L86.08,249.50 L86.26,249.97 L86.42,250.44 L86.59,250.92 L86.76,251.39 L86.92,251.87 L87.08,252.34 L87.24,252.82 L87.40,253.30 L87.55,253.77 L87.70,254.25 L87.85,254.73 L88.00,255.21 L88.15,255.68 L88.30,256.16 L88.44,256.64 L88.58,257.12 L88.72,257.60 L88.86,258.08 L88.99,258.57 L89.13,259.05 L89.26,259.53 L89.39,260.01 L89.52,260.50 L89.65,260.98 L89.77,261.46 L89.90,261.95 L90.02,262.43 L90.14,262.92 L90.26,263.40 L90.38,263.89 L90.50,264.37 L90.61,264.86 L90.73,265.35 L90.84,265.83 L90.95,266.32 L91.06,266.81 L91.17,267.29 L91.28,267.78 L91.38,268.27 L91.49,268.76 L91.59,269.25 L91.69,269.74 L91.79,270.23 L91.89,270.72 L91.99,271.21 L92.09,271.70 L92.19,272.19 L92.28,272.68 L92.38,273.17 L92.47,273.66 L92.56,274.15 L92.65,274.64 L92.74,275.14 L92.83,275.63 L92.92,276.12 L93.01,276.61 L93.10,277.11 L93.18,277.60 L93.27,278.09 L93.35,278.58 L93.44,279.08 L93.52,279.57 L93.60,280.06 L93.69,280.56 L93.77,281.05 L93.85,281.55 L93.93,282.04 L94.01,282.54 L94.09,283.03 L94.16,283.52 L94.24,284.02 L94.32,284.51 L94.40,285.01 L94.47,285.50 L94.55,286.00 L94.62,286.49 L94.70,286.99 L94.77,287.48 L94.85,287.98 L94.92,288.47 L95.00,288.97 L95.07,289.46 L95.14,289.96 L95.22,290.46 L95.29,290.95 L95.36,291.45 L95.43,291.94 L95.51,292.44 L95.58,292.93 L95.65,293.43 L95.72,293.92 L95.79,294.42 L95.86,294.92 L95.93,295.41 L96.00,295.91 L96.07,296.40 L96.14,296.90 L96.21,297.40 L96.28,297.89 L96.35,298.39 L96.42,298.88 L96.49,299.38 L96.56,299.88 L96.63,300.37 L96.70,300.87 L96.76,301.36 L96.83,301.86 L96.90,302.36 L96.96,302.85 L97.03,303.35 L97.10,303.85 L97.16,304.34 L97.23,304.84 L97.30,305.34 L97.36,305.83 L97.43,306.33 L97.49,306.82 L97.56,307.32 L97.62,307.82 L97.69,308.31 L97.75,308.81 L97.81,309.31 L97.88,309.81 L97.94,310.30 L98.00,310.80 L98.07,311.30 L98.13,311.79 L98.19,312.29 L98.25,312.79 L98.32,313.28 L98.38,313.78 L98.44,314.28 L98.50,314.77 L98.56,315.27 L98.62,315.77 L98.68,316.27 L98.74,316.76 L98.80,317.26 L98.86,317.76 L98.92,318.25 L98.98,318.75 L99.04,319.25 L99.10,319.75 L99.16,320.24 L99.22,320.74 L99.28,321.24 L99.33,321.74 L99.39,322.23 L99.45,322.73 L99.51,323.23 L99.56,323.73 L99.62,324.22 L99.68,324.72 L99.73,325.22 L99.79,325.72 L99.85,326.22 L99.90,326.71 L99.96,327.21 L100.01,327.71 L100.07,328.21 L100.12,328.70 L100.18,329.20 L100.23,329.70 L100.28,330.20 L100.34,330.70 L100.39,331.19 L100.45,331.69 L100.50,332.19 L100.55,332.69 L100.60,333.19 L100.66,333.68 L100.71,334.18 L100.76,334.68 L100.81,335.18 L100.86,335.68 L100.92,336.17 L100.97,336.67 L101.02,337.17 L101.07,337.67 L101.12,338.17 L101.17,338.67 L101.22,339.16 L101.27,339.66 L101.32,340.16 L101.37,340.66 L101.42,341.16 L101.47,341.66 L101.52,342.16 L101.56,342.65 L101.61,343.15 L101.66,343.65 L101.71,344.15 L101.76,344.65 L101.80,345.15 L101.85,345.65 L101.90,346.14 L101.94,346.64 L101.99,347.14 L102.04,347.64 L102.08,348.14 L102.13,348.64 L102.18,349.14 L102.22,349.64 L102.27,350.13 L102.31,350.63 L102.36,351.13 L102.40,351.63 L102.44,352.13 L102.49,352.63 L102.53,353.13 L102.58,353.63 L102.62,354.13 L102.66,354.62 L102.71,355.12 L102.75,355.62 L102.79,356.12 L102.84,356.62 L102.88,357.12 L102.92,357.62 L102.96,358.12 L103.00,358.62 L103.04,359.12 L103.09,359.62 L103.13,360.11 L103.17,360.61 L103.21,361.11 L103.25,361.61 L103.29,362.11 L103.33,362.61 L103.37,363.11 L103.41,363.61 L103.45,364.11 L103.49,364.61 L103.53,365.11 L103.56,365.61 L103.60,366.11 L103.64,366.61 L103.68,367.10 L103.72,367.60 L103.76,368.10 L103.79,368.60 L103.83,369.10 L103.87,369.60 L103.90,370.10 L103.94,370.60 L103.98,371.10 L104.01,371.60 L104.05,372.10 L104.09,372.60 L104.12,373.10 L104.16,373.60 L104.19,374.10 L104.23,374.60 L104.26,375.10 L104.30,375.60 L104.33,376.10 L104.37,376.60 L104.40,377.10 L104.43,377.60 L104.47,378.10 L104.50,378.59 L104.54,379.09 L104.57,379.59 L104.60,380.09 L104.64,380.59 L104.67,381.09 L104.70,381.59 L104.73,382.09 L104.77,382.59 L104.80,383.09 L104.83,383.59 L104.86,384.09 L104.89,384.59 L104.92,385.09 L104.96,385.59 L104.99,386.09 L105.02,386.59 L105.05,387.09 L105.08,387.59 L105.11,388.09 L105.14,388.59 L105.17,389.09 L105.20,389.59 L105.23,390.09 L105.26,390.59 L105.29,391.09 L105.32,391.59 L105.35,392.09 L105.38,392.59 L105.41,393.09 L105.44,393.59 L105.47,394.09 L105.50,394.59 L105.52,395.09 L105.55,395.59 L105.58,396.09 L105.61,396.59 L105.64,397.09 L105.67,397.59 L105.69,398.09 L105.72,398.59 L105.75,399.09 L105.78,399.59 L105.81,400.09 L105.83,400.59 L105.86,401.09 L105.89,401.59 L105.92,402.09 L105.94,402.59 L105.97,403.09 L106.00,403.59 L106.02,404.09 L106.05,404.59 L106.08,405.09 L106.10,405.59 L106.13,406.09 L106.16,406.59 L106.18,407.09 L106.21,407.59 L106.24,408.09 L106.26,408.59 L106.29,409.09 L106.31,409.59 L106.34,410.09 L106.37,410.59 L106.39,411.09 L106.42,411.59 L106.44,412.09 L106.47,412.59 L106.50,413.09 L106.52,413.59 L106.55,414.09 L106.57,414.59 L106.60,415.10 L106.62,415.60 L106.65,416.10 L106.67,416.60 L106.70,417.10 L106.72,417.60 L106.75,418.10 L106.78,418.60 L106.80,419.10 L106.83,419.60 L106.85,420.10 L106.88,420.60 L106.90,421.10 L106.93,421.60 L106.95,422.10 L106.98,422.60 L107.00,423.10 L107.03,423.60 L107.05,424.10 L107.08,424.60 L107.10,425.10 L107.13,425.60 L107.15,426.10 L107.18,426.60 L107.20,427.10 L107.23,427.60 L107.25,428.10 L107.28,428.60 L107.30,429.10 L107.33,429.60 L107.35,430.10 L107.38,430.60 L107.40,431.10 L107.43,431.60 L107.45,432.10 L107.48,432.60 L107.50,433.10 L107.53,433.60 L107.55,434.10 L107.58,434.60 L107.60,435.10 L107.63,435.60 L107.65,436.10 L107.68,436.60 L107.70,437.10 L107.73,437.60 L107.75,438.10 L107.78,438.60 L107.80,439.10 L107.83,439.60 L107.86,440.10 L107.88,440.60 L107.91,441.10 L107.93,441.60 L107.96,442.10 L107.98,442.60 L108.01,443.10 L108.04,443.60 L108.06,444.10 L108.09,444.60 L108.11,445.10 L108.14,445.60 L108.17,446.10 L108.19,446.60 L108.22,447.10 L108.24,447.60 L108.27,448.10 L108.30,448.60 L108.32,449.10 L108.35,449.60 L108.38,450.10 L108.41,450.60 L108.43,451.10 L108.46,451.60 L108.49,452.10 L108.51,452.60 L108.54,453.10 L108.57,453.60 L108.60,454.10 L108.62,454.60 L108.65,455.10 L108.68,455.60 L108.71,456.10 L108.74,456.60 L108.76,457.10 L108.79,457.60 L108.82,458.10 L108.85,458.60 L108.88,459.10 L108.91,459.60 L108.94,460.10 L108.96,460.60 L108.99,461.10 L109.02,461.60 L109.05,462.10 L109.08,462.60 L109.11,463.10 L109.14,463.60 L109.17,464.10 L109.20,464.60 L109.23,465.10 L109.26,465.60 L109.29,466.10 L109.32,466.60 L109.35,467.10 L109.38,467.60 L109.41,468.10 L109.45,468.60 L109.48,469.10 L109.51,469.60 L109.54,470.10 L109.57,470.59 L109.60,471.09 L109.64,471.59 L109.67,472.09 L109.70,472.59 L109.73,473.09 L109.77,473.59 L109.80,474.09 L109.83,474.59 L109.87,475.09 L109.90,475.59 L109.93,476.09 L109.97,476.59 L110.00,477.09 L110.03,477.59 L110.07,478.09 L110.10,478.59 L110.14,479.08 L110.17,479.58 L110.21,480.08 L110.24,480.58 L110.28,481.08 L110.31,481.58 L110.35,482.08 L110.39,482.58 L110.42,483.08 L110.46,483.58 L110.50,484.08 L110.53,484.58 L110.57,485.08 L110.61,485.57 L110.64,486.07 L110.68,486.57 L110.72,487.07 L110.76,487.57 L110.80,488.07 L110.84,488.57 L110.87,489.07 L110.91,489.57 L110.95,490.07 L110.99,490.56 L111.03,491.06 L111.07,491.56 L111.11,492.06 L111.15,492.56 L111.19,493.06 L111.24,493.56 L111.28,494.06 L111.32,494.56 L111.36,495.05 L111.40,495.55 L111.44,496.05 L111.49,496.55 L111.53,497.05 L111.57,497.55 L111.62,498.05 L111.66,498.54 L111.70,499.04 L111.75,499.54 L111.79,500.04 L111.84,500.54 L111.88,501.04 L111.93,501.54 L111.97,502.03 L112.02,502.53 L112.06,503.03 L112.11,503.53 L112.15,504.03 L112.57,503.53 L112.63,503.03 L112.68,502.53 L112.73,502.03 L112.78,501.53 L112.83,501.03 L112.88,500.53 L112.93,500.03 L112.98,499.53 L113.03,499.03 L113.08,498.53 L113.13,498.03 L113.18,497.53 L113.23,497.03 L113.28,496.53 L113.32,496.03 L113.37,495.53 L113.42,495.03 L113.47,494.54 L113.51,494.04 L113.56,493.54 L113.61,493.04 L113.65,492.54 L113.70,492.04 L113.74,491.54 L113.79,491.04 L113.83,490.55 L113.87,490.05 L113.92,489.55 L113.96,489.05 L114.01,488.55 L114.05,488.05 L114.09,487.55 L114.13,487.06 L114.18,486.56 L114.22,486.06 L114.26,485.56 L114.30,485.06 L114.34,484.56 L114.38,484.07 L114.43,483.57 L114.47,483.07 L114.51,482.57 L114.55,482.07 L114.59,481.58 L114.63,481.08 L114.67,480.58 L114.71,480.08 L114.74,479.58 L114.78,479.09 L114.82,478.59 L114.86,478.09 L114.90,477.59 L114.94,477.09 L114.97,476.60 L115.01,476.10 L115.05,475.60 L115.09,475.10 L115.12,474.60 L115.16,474.11 L115.20,473.61 L115.23,473.11 L115.27,472.61 L115.31,472.12 L115.34,471.62 L115.38,471.12 L115.41,470.62 L115.45,470.13 L115.48,469.63 L115.52,469.13 L115.55,468.63 L115.59,468.13 L115.62,467.64 L115.66,467.14 L115.69,466.64 L115.73,466.14 L115.76,465.65 L115.80,465.15 L115.83,464.65 L115.86,464.15 L115.90,463.66 L115.93,463.16 L115.97,462.66 L116.00,462.16 L116.03,461.66 L116.07,461.17 L116.10,460.67 L116.13,460.17 L116.16,459.67 L116.20,459.18 L116.23,458.68 L116.26,458.18 L116.30,457.68 L116.33,457.18 L116.36,456.69 L116.39,456.19 L116.43,455.69 L116.46,455.19 L116.49,454.70 L116.52,454.20 L116.55,453.70 L116.59,453.20 L116.62,452.70 L116.65,452.21 L116.68,451.71 L116.71,451.21 L116.75,450.71 L116.78,450.21 L116.81,449.71 L116.84,449.22 L116.87,448.72 L116.90,448.22 L116.94,447.72 L116.97,447.22 L117.00,446.73 L117.03,446.23 L117.06,445.73 L117.09,445.23 L117.13,444.73 L117.16,444.23 L117.19,443.73 L117.22,443.24 L117.25,442.74 L117.28,442.24 L117.32,441.74 L117.35,441.24 L117.38,440.74 L117.41,440.24 L117.44,439.74 L117.48,439.24 L117.51,438.75 L117.54,438.25 L117.57,437.75 L117.60,437.25 L117.64,436.75 L117.67,436.25 L117.70,435.75 L117.73,435.25 L117.76,434.75 L117.80,434.25 L117.83,433.75 L117.86,433.25 L117.89,432.75 L117.93,432.25 L117.96,431.75 L117.99,431.25 L118.03,430.75 L118.06,430.25 L118.09,429.75 L118.13,429.25 L118.16,428.75 L118.19,428.25 L118.23,427.75 L118.26,427.25 L118.29,426.75 L118.33,426.25 L118.36,425.75 L118.39,425.25 L118.43,424.75 L118.46,424.25 L118.50,423.75 L118.53,423.25 L118.57,422.75 L118.60,422.25 L118.64,421.75 L118.67,421.24 L118.71,420.74 L118.74,420.24 L118.78,419.74 L118.82,419.24 L118.85,418.74 L118.89,418.24 L118.92,417.74 L118.96,417.24 L119.00,416.74 L119.03,416.24 L119.07,415.74 L119.11,415.23 L119.15,414.73 L119.18,414.23 L119.22,413.73 L119.26,413.23 L119.30,412.73 L119.34,412.23 L119.37,411.73 L119.41,411.23 L119.45,410.73 L119.49,410.23 L119.53,409.72 L119.57,409.22 L119.61,408.72 L119.65,408.22 L119.69,407.72 L119.73,407.22 L119.77,406.72 L119.81,406.22 L119.86,405.72 L119.90,405.22 L119.94,404.72 L119.98,404.22 L120.02,403.72 L120.07,403.22 L120.11,402.72 L120.15,402.22 L120.20,401.72 L120.24,401.21 L120.28,400.71 L120.33,400.21 L120.37,399.71 L120.42,399.21 L120.46,398.71 L120.51,398.21 L120.55,397.71 L120.60,397.21 L120.65,396.71 L120.69,396.22 L120.74,395.72 L120.79,395.22 L120.83,394.72 L120.88,394.22 L120.93,393.72 L120.98,393.22 L121.03,392.72 L121.08,392.22 L121.13,391.72 L121.17,391.22 L121.23,390.72 L121.28,390.22 L121.33,389.73 L121.38,389.23 L121.43,388.73 L121.48,388.23 L121.53,387.73 L121.59,387.23 L121.64,386.74 L121.69,386.24 L121.75,385.74 L121.80,385.24 L121.85,384.74 L121.91,384.25 L121.96,383.75 L122.02,383.25 L122.08,382.76 L122.13,382.26 L122.19,381.76 L122.25,381.26 L122.30,380.77 L122.36,380.27 L122.42,379.77 L122.48,379.28 L122.54,378.78 L122.60,378.29 L122.66,377.79 L122.72,377.29 L122.78,376.80 L122.84,376.30 L122.90,375.81 L122.96,375.31 L123.02,374.82 L123.09,374.32 L123.15,373.83 L123.21,373.33 L123.28,372.84 L123.34,372.34 L123.41,371.85 L123.47,371.36 L123.54,370.86 L123.61,370.37 L123.67,369.87 L123.74,369.38 L123.81,368.89 L123.88,368.39 L123.95,367.90 L124.02,367.41 L124.09,366.92 L124.16,366.42 L124.23,365.93 L124.30,365.44 L124.37,364.95 L124.44,364.46 L124.52,363.96 L124.59,363.47 L124.66,362.98 L124.74,362.49 L124.81,362.00 L124.89,361.51 L124.96,361.02 L125.04,360.53 L125.12,360.04 L125.20,359.55 L125.27,359.06 L125.35,358.57 L125.43,358.08 L125.51,357.59 L125.59,357.10 L125.67,356.61 L125.75,356.13 L125.84,355.64 L125.92,355.15 L126.00,354.66 L126.08,354.18 L126.17,353.69 L126.25,353.20 L126.34,352.71 L126.43,352.23 L126.51,351.74 L126.60,351.25 L126.69,350.77 L126.78,350.28 L126.87,349.80 L126.96,349.31 L127.05,348.83 L127.15,348.34 L127.24,347.85 L127.34,347.37 L127.43,346.89 L127.53,346.40 L127.63,345.92 L127.73,345.43 L127.83,344.95 L127.94,344.46 L128.04,343.98 L128.14,343.49 L128.25,343.01 L128.36,342.53 L128.47,342.04 L128.58,341.56 L128.69,341.08 L128.80,340.59 L128.92,340.11 L129.04,339.63 L129.16,339.14 L129.28,338.66 L129.40,338.18 L129.52,337.69 L129.65,337.21 L129.77,336.73 L129.90,336.25 L130.03,335.76 L130.16,335.28 L130.30,334.80 L130.43,334.31 L130.57,333.83 L130.71,333.35 L130.85,332.87 L131.00,332.38 L131.14,331.90 L131.29,331.42 L131.44,330.94 L131.60,330.45 L131.75,329.97 L131.91,329.49 L132.07,329.01 L132.23,328.52 L132.39,328.04 L132.56,327.56 L132.73,327.07 L132.90,326.59 L133.07,326.11 L133.25,325.63 L133.43,325.14 L133.61,324.66 L133.79,324.18 L133.98,323.69 L134.17,323.21 L134.36,322.73 L134.55,322.24 L134.75,321.76 L134.95,321.28 L135.15,320.79 L135.36,320.31 L135.57,319.83 L135.78,319.35 L135.99,318.86 L136.21,318.39 L136.44,317.91 L136.66,317.44 L136.89,316.97 L137.13,316.50 L137.37,316.04 L137.61,315.58 L137.86,315.12 L138.11,314.67 L138.37,314.22 L138.63,313.78 L138.90,313.35 L139.18,312.92 L139.46,312.50 L139.74,312.09 L140.03,311.68 L140.33,311.28 L140.64,310.89 L140.95,310.51 L141.26,310.13 L141.59,309.77 L141.92,309.41 L142.25,309.07 L142.60,308.73 L142.95,308.41 L143.31,308.09 L143.68,307.79 L144.05,307.50 L144.43,307.22 L144.82,306.96 L145.22,306.70 L145.63,306.46 L146.05,306.24 L146.47,306.03 L146.90,305.83 L147.34,305.64 L147.79,305.47 L148.24,305.31 L148.70,305.16 L149.17,305.02 L149.64,304.90 L150.12,304.79 L150.60,304.69 L151.09,304.60 L151.58,304.53 L152.08,304.46 L152.57,304.41 L153.07,304.36 L153.58,304.33 L154.08,304.31 L154.59,304.29 L155.10,304.29 L155.61,304.30 L156.12,304.31 L156.63,304.34 L157.13,304.37 L157.64,304.41 L158.15,304.47 L158.66,304.52 L159.16,304.59 L159.66,304.67 L160.16,304.75 L160.66,304.84 L161.15,304.94 L161.64,305.04 L162.13,305.16 L162.62,305.28 L163.10,305.40 L163.58,305.54 L164.06,305.67 L164.53,305.82 L165.01,305.97 L165.48,306.13 L165.94,306.30 L166.41,306.47 L166.87,306.64 L167.33,306.82 L167.79,307.01 L168.25,307.20 L168.70,307.40 L169.15,307.61 L169.60,307.81 L170.05,308.03 L170.50,308.24 L170.94,308.47 L171.38,308.69 L171.83,308.92 L172.26,309.16 L172.70,309.40 L173.14,309.64 L173.57,309.89 L174.00,310.14 L174.43,310.40 L174.86,310.65 L175.29,310.91 L175.72,311.18 L176.14,311.45 L176.57,311.72 L176.99,311.99 L177.41,312.27 L177.83,312.54 L178.25,312.82 L178.67,313.11 L179.08,313.39 L179.50,313.68 L179.91,313.97 L180.33,314.26 L180.74,314.55 L181.15,314.84 L181.56,315.14 L181.97,315.44 L182.38,315.73 L182.79,316.03 L183.20,316.33 L183.61,316.63 L184.02,316.93 L184.43,317.23 L184.83,317.53 L185.24,317.83 L185.65,318.13 L186.05,318.44 L186.46,318.74 L186.86,319.04 L187.27,319.34 L187.67,319.64 L188.08,319.94 L188.48,320.24 L188.88,320.55 L189.29,320.85 L189.69,321.15 L190.09,321.45 L190.50,321.75 L190.90,322.06 L191.30,322.36 L191.70,322.66 L192.10,322.96 L192.50,323.27 L192.91,323.57 L193.31,323.87 L193.71,324.17 L194.11,324.48 L194.51,324.78 L194.91,325.08 L195.31,325.39 L195.70,325.69 L196.10,325.99 L196.50,326.30 L196.90,326.60 L197.30,326.90 L197.70,327.21 L198.09,327.51 L198.49,327.81 L198.89,328.12 L199.29,328.42 L199.68,328.73 L200.08,329.03 L200.47,329.33 L200.87,329.64 L201.27,329.94 L201.66,330.25 L202.06,330.55 L202.45,330.86 L202.85,331.16 L203.24,331.47 L203.64,331.77 L204.03,332.08 L204.43,332.38 L204.82,332.69 L205.22,332.99 L205.61,333.30 L206.00,333.60 L206.40,333.91 L206.79,334.21 L207.18,334.52 L207.58,334.82 L207.97,335.13 L208.36,335.44 L208.76,335.74 L209.15,336.05 L209.54,336.35 L209.93,336.66 L210.33,336.97 L210.72,337.27 L211.11,337.58 L211.50,337.89 L211.89,338.19 L212.29,338.50 L212.68,338.81 L213.07,339.11 L213.46,339.42 L213.85,339.73 L214.24,340.03 L214.63,340.34 L215.03,340.65 L215.42,340.96 L215.81,341.26 L216.20,341.57 L216.59,341.88 L216.98,342.19 L217.37,342.49 L217.76,342.80 L218.15,343.11 L218.54,343.42 L218.93,343.72 L219.32,344.03 L219.71,344.34 L220.10,344.65 L220.49,344.96 L220.88,345.27 L221.27,345.57 L221.66,345.88 L222.05,346.19 L222.44,346.50 L222.83,346.81 L223.22,347.12 L223.61,347.43 L224.00,347.73 L224.39,348.04 L224.78,348.35 L225.17,348.66 L225.57,348.97 L225.96,349.28 L226.35,349.59 L226.74,349.90 L227.13,350.21 L227.52,350.52 L227.91,350.83 L228.30,351.14 L228.69,351.45 L229.08,351.76 L229.47,352.07 L229.86,352.38 L230.25,352.69 L230.64,353.00 L231.03,353.31 L231.42,353.62 L231.81,353.93 L232.20,354.24 L232.59,354.55 L232.98,354.86 L233.37,355.17 L233.76,355.48 L234.16,355.79 L234.55,356.10 L234.94,356.42 L235.33,356.73 L235.72,357.04 L236.11,357.35 L236.50,357.66 L236.89,357.97 L237.28,358.28 L237.68,358.59 L238.07,358.91 L238.46,359.22 L238.85,359.53 L239.24,359.84 L239.63,360.15 L240.02,360.46 L240.42,360.78 L240.81,361.09 L241.20,361.40 L241.59,361.71 L241.98,362.02 L242.38,362.33 L242.77,362.65 L243.16,362.96 L243.55,363.27 L243.94,363.58 L244.33,363.90 L244.73,364.21 L245.12,364.52 L245.51,364.83 L245.90,365.14 L246.29,365.46 L246.69,365.77 L247.08,366.08 L247.47,366.39 L247.86,366.71 L248.26,367.02 L248.65,367.33 L249.04,367.65 L249.43,367.96 L249.83,368.27 L250.22,368.58 L250.61,368.90 L251.00,369.21 L251.39,369.52 L251.79,369.83 L252.18,370.15 L252.57,370.46 L252.96,370.77 L253.36,371.09 L253.75,371.40 L254.14,371.71 L254.54,372.03 L254.93,372.34 L255.32,372.65 L255.71,372.96 L256.11,373.28 L256.50,373.59 L256.89,373.90 L257.28,374.22 L257.68,374.53 L258.07,374.84 L258.46,375.16 L258.86,375.47 L259.25,375.78 L259.64,376.10 L260.03,376.41 L260.43,376.72 L260.82,377.04 L261.21,377.35 L261.61,377.66 L262.00,377.98 L262.39,378.29 L262.78,378.60 L263.18,378.91 L263.57,379.23 L263.96,379.54 L264.36,379.85 L264.75,380.17 L265.14,380.48 L265.54,380.79 L265.93,381.11 L266.32,381.42 L266.72,381.73 L267.11,382.05 L267.50,382.36 L267.89,382.67 L268.29,382.99 L268.68,383.30 L269.07,383.61 L269.47,383.93 L269.86,384.24 L270.25,384.55 L270.65,384.87 L271.04,385.18 L271.43,385.49 L271.83,385.80 L272.22,386.12 L272.61,386.43 L273.01,386.74 L273.40,387.06 L273.79,387.37 L274.18,387.68 L274.58,387.99 L274.97,388.31 L275.36,388.62 L275.76,388.93 L276.15,389.25 L276.54,389.56 L276.94,389.87 L277.33,390.18 L277.72,390.50 L278.12,390.81 L278.51,391.12 L278.90,391.43 L279.30,391.75 L279.69,392.06 L280.08,392.37 L280.47,392.68 L280.87,393.00 L281.26,393.31 L281.65,393.62 L282.05,393.93 L282.44,394.25 L282.83,394.56 L283.23,394.87 L283.62,395.18 L284.01,395.49 L284.40,395.81 L284.80,396.12 L285.19,396.43 L285.58,396.74 L285.98,397.05 L286.37,397.36 L286.76,397.68 L287.15,397.99 L287.55,398.30 L287.94,398.61 L288.33,398.92 L288.73,399.23 L289.12,399.54 L289.51,399.86 L289.90,400.17 L290.30,400.48 L290.69,400.79 L291.08,401.10 L291.47,401.41 L291.87,401.72 L292.26,402.03 L292.65,402.34 L293.05,402.65 L293.44,402.97 L293.83,403.28 L294.22,403.59 L294.62,403.90 L295.01,404.21 L295.40,404.52 L295.79,404.83 L296.18,405.14 L296.58,405.45 L296.97,405.76 L297.36,406.07 L297.75,406.38 L298.15,406.69 L298.54,407.00 L298.93,407.31 L299.32,407.62 L299.71,407.93 L300.11,408.23 L300.50,408.54 L300.89,408.85 L301.28,409.16 L301.67,409.47 L302.07,409.78 L302.46,410.09 L302.85,410.40 L303.24,410.71 L303.63,411.02 L304.03,411.32 L304.42,411.63 L304.81,411.94 L305.20,412.25 L305.59,412.56 L305.99,412.86 L306.38,413.17 L306.77,413.48 L307.16,413.79 L307.55,414.10 L307.94,414.40 L308.34,414.71 L308.73,415.02 L309.12,415.32 L309.51,415.63 L309.90,415.94 L310.30,416.25 L310.69,416.55 L311.08,416.86 L311.47,417.17 L311.86,417.47 L312.26,417.78 L312.65,418.08 L313.04,418.39 L313.43,418.70 L313.83,419.00 L314.22,419.31 L314.61,419.61 L315.00,419.92 L315.40,420.22 L315.79,420.53 L316.18,420.83 L316.57,421.14 L316.97,421.44 L317.36,421.75 L317.75,422.05 L318.15,422.35 L318.54,422.66 L318.93,422.96 L319.33,423.27 L319.72,423.57 L320.11,423.87 L320.51,424.18 L320.90,424.48 L321.29,424.78 L321.69,425.09 L322.08,425.39 L322.48,425.69 L322.87,425.99 L323.26,426.30 L323.66,426.60 L324.05,426.90 L324.45,427.20 L324.84,427.50 L325.24,427.80 L325.63,428.11 L326.03,428.41 L326.42,428.71 L326.82,429.01 L327.21,429.31 L327.61,429.61 L328.01,429.91 L328.40,430.21 L328.80,430.51 L329.19,430.81 L329.59,431.11 L329.99,431.41 L330.38,431.71 L330.78,432.01 L331.18,432.30 L331.57,432.60 L331.97,432.90 L332.37,433.20 L332.77,433.50 L333.16,433.80 L333.56,434.09 L333.96,434.39 L334.36,434.69 L334.76,434.98 L335.16,435.28 L335.56,435.58 L335.95,435.87 L336.35,436.17 L336.75,436.47 L337.15,436.76 L337.55,437.06 L337.95,437.35 L338.35,437.65 L338.75,437.94 L339.15,438.24 L339.55,438.53 L339.96,438.83 L340.36,439.12 L340.76,439.41 L341.16,439.71 L341.56,440.00 L341.96,440.30 L342.37,440.59 L342.77,440.88 L343.17,441.17 L343.58,441.47 L343.98,441.76 L344.38,442.05 L344.79,442.34 L345.19,442.63 L345.59,442.92 L346.00,443.21 L346.40,443.51 L346.81,443.80 L347.21,444.09 L347.62,444.38 L348.03,444.67 L348.43,444.96 L348.84,445.24 L349.24,445.53 L349.65,445.82 L350.06,446.11 L350.47,446.40 L350.87,446.69 L351.28,446.97 L351.69,447.26 L352.10,447.55 L352.51,447.84 L352.92,448.12 L353.33,448.41 L353.74,448.70 L354.15,448.98 L354.56,449.27 L354.97,449.55 L355.38,449.84 L355.79,450.12 L356.20,450.41 L356.61,450.69 L357.02,450.98 L357.44,451.26 L357.85,451.54 L358.26,451.83 L358.68,452.11 L359.09,452.39 L359.50,452.67 L359.92,452.96 L360.33,453.24 L360.75,453.52 L361.16,453.80 L361.58,454.08 L362.00,454.36 L362.41,454.64 L362.83,454.92 L363.25,455.20 L363.66,455.48 L364.08,455.76 L364.50,456.04 L364.92,456.32 L365.34,456.60 L365.76,456.88 L366.18,457.15 L366.60,457.43 L367.02,457.71 L367.44,457.98 L367.86,458.26 L368.28,458.54 L368.70,458.81 L369.12,459.09 L369.55,459.36 L369.97,459.64 L370.39,459.91 L370.82,460.19 L371.24,460.46 L371.67,460.74 L372.09,461.01 L372.52,461.28 L372.94,461.55 L373.37,461.83 L373.80,462.10 L374.22,462.37 L374.65,462.64 L375.08,462.91 L375.51,463.18 L375.94,463.45 L376.36,463.72 L376.79,463.99 L377.22,464.26 L377.65,464.52 L378.08,464.79 L378.52,465.06 L378.95,465.32 L379.38,465.59 L379.81,465.85 L380.24,466.11 L380.68,466.38 L381.11,466.64 L381.54,466.90 L381.98,467.16 L382.41,467.42 L382.85,467.68 L383.28,467.94 L383.72,468.20 L384.16,468.46 L384.59,468.72 L385.03,468.97 L385.47,469.23 L385.91,469.48 L386.34,469.74 L386.78,469.99 L387.22,470.24 L387.66,470.49 L388.10,470.74 L388.54,470.99 L388.98,471.24 L389.42,471.49 L389.87,471.74 L390.31,471.98 L390.75,472.23 L391.19,472.47 L391.64,472.72 L392.08,472.96 L392.52,473.20 L392.97,473.44 L393.41,473.68 L393.86,473.92 L394.31,474.15 L394.75,474.39 L395.20,474.63 L395.65,474.86 L396.09,475.09 L396.54,475.32 L396.99,475.55 L397.44,475.78 L397.89,476.01 L398.34,476.24 L398.79,476.47 L399.24,476.69 L399.69,476.91 L400.14,477.14 L400.59,477.36 L401.04,477.58 L401.50,477.80 L401.95,478.01 L402.40,478.23 L402.86,478.44 L403.31,478.66 L403.77,478.87 L404.22,479.08 L404.68,479.29 L405.13,479.50 L405.59,479.71 L406.05,479.91 L406.50,480.11 L406.96,480.32 L407.42,480.52 L407.88,480.72 L408.34,480.92 L408.80,481.11 L409.26,481.31 L409.72,481.50 L410.18,481.69 L410.64,481.88 L411.10,482.07 L411.56,482.26 L412.03,482.45 L412.49,482.63 L412.95,482.82 L413.42,483.00 L413.88,483.18 L414.35,483.35 L414.81,483.53 L415.28,483.71 L415.74,483.88 L416.21,484.05 L416.68,484.22 L417.14,484.39 L417.61,484.55 L418.08,484.72 L418.55,484.88 L419.02,485.04 L419.49,485.20 L419.96,485.36 L420.43,485.52 L420.90,485.67 L421.37,485.82 L421.84,485.97 L422.32,486.12 L422.79,486.27 L423.26,486.41 L423.74,486.55 L424.21,486.70 L424.68,486.83 L425.16,486.97 L425.63,487.11 L426.11,487.24 L426.59,487.37 L427.06,487.50 L427.54,487.63 L428.02,487.75 L428.50,487.87 L428.98,488.00 L429.46,488.11 L429.94,488.23 L430.42,488.35 L430.90,488.46 L431.38,488.57 L431.86,488.68 L432.34,488.78 L432.82,488.89 L433.31,488.99 L433.79,489.09 L434.27,489.19 L434.76,489.29 L435.24,489.38 L435.72,489.48 L436.21,489.57 L436.70,489.65 L437.18,489.74 L437.67,489.83 L438.15,489.91 L438.64,489.99 L439.13,490.07 L439.62,490.15 L440.11,490.22 L440.59,490.30 L441.08,490.37 L441.57,490.44 L442.06,490.51 L442.55,490.57 L443.04,490.64 L443.53,490.70 L444.02,490.76 L444.52,490.82 L445.01,490.88 L445.50,490.93 L445.99,490.99 L446.48,491.04 L446.98,491.09 L447.47,491.14 L447.96,491.18 L448.46,491.23 L448.95,491.27 L449.44,491.31 L449.94,491.35 L450.43,491.39 L450.93,491.43 L451.42,491.47 L451.92,491.50 L452.42,491.53 L452.91,491.56 L453.41,491.59 L453.90,491.62 L454.40,491.64 L454.90,491.67 L455.40,491.69 L455.89,491.71 L456.39,491.73 L456.89,491.75 L457.39,491.77 L457.88,491.78 L458.38,491.79 L458.88,491.81 L459.38,491.82 L459.88,491.83 L460.38,491.83 L460.88,491.84 L461.38,491.84 L461.88,491.85 L462.38,491.85 L462.88,491.85 L463.38,491.85 L463.88,491.85 L464.38,491.84 L464.88,491.84 L465.38,491.83 L465.88,491.83 L466.38,491.82 L466.88,491.81 L467.38,491.80 L467.88,491.78 L468.38,491.77 L468.88,491.75 L469.39,491.74 L469.89,491.72 L470.39,491.70 L470.89,491.68 L471.39,491.66 L471.89,491.64 L472.40,491.61 L472.90,491.59 L473.40,491.56 L473.90,491.53 L474.40,491.50 L474.91,491.47 L475.41,491.44 L475.91,491.41 L476.41,491.38 L476.91,491.34 L477.42,491.31 L477.92,491.27 L478.42,491.24 L478.92,491.20 L479.43,491.16 L479.93,491.12 L480.43,491.08 L480.93,491.03 L481.43,490.99 L481.94,490.94 L482.44,490.90 L482.94,490.85 L483.44,490.80 L483.94,490.76 L484.45,490.71 L484.95,490.66 L485.45,490.60 L485.95,490.55 L486.45,490.50 L486.95,490.45 L487.46,490.39 L487.96,490.33 L488.46,490.28 L488.96,490.22 L489.46,490.16 L489.96,490.10 L490.46,490.04 L490.96,489.98 L491.46,489.92 L491.96,489.86 L492.46,489.79 L492.96,489.73 L493.46,489.67 L493.96,489.60 L494.46,489.53 L494.96,489.47 L495.46,489.40 L495.96,489.33 L496.46,489.26 L496.96,489.19 L497.46,489.12 L497.96,489.05 L498.46,488.98 L498.96,488.91 L499.45,488.83 L499.95,488.76 L500.45,488.68 L500.95,488.61 L501.44,488.53 L501.94,488.46 L502.44,488.38 L502.93,488.30 L503.43,488.23 L503.93,488.15 L504.42,488.07 L504.92,487.99 L505.42,487.91 L505.91,487.83 L506.41,487.75 L506.90,487.67 L507.40,487.58 L507.89,487.50 L508.39,487.42 L508.88,487.33 L509.37,487.25 L509.87,487.16 L510.36,487.08 L510.86,486.99 L511.35,486.91 L511.84,486.82 L512.34,486.73 L512.83,486.65 L513.32,486.56 L513.82,486.47 L514.31,486.38 L514.80,486.29 L515.30,486.20 L515.79,486.11 L516.28,486.02 L516.77,485.93 L517.26,485.84 L517.76,485.75 L518.25,485.66 L518.74,485.56 L519.23,485.47 L519.72,485.38 L520.21,485.29 L520.70,485.19 L521.20,485.10 L521.69,485.00 L522.18,484.91 L522.67,484.81 L523.16,484.72 L523.65,484.62 L524.14,484.53 L524.63,484.43 L525.12,484.34 L525.61,484.24 L526.10,484.14 L526.59,484.05 L527.08,483.95 L527.57,483.85 L528.06,483.75 L528.55,483.66 L529.04,483.56 L529.53,483.46 L530.02,483.36 L530.51,483.26 L530.99,483.16 L531.48,483.06 L531.97,482.96 L532.46,482.86 L532.95,482.77 L533.44,482.67 L533.93,482.57 L534.42,482.47 L534.91,482.37 L535.39,482.27 L535.88,482.16 L536.37,482.06 L536.86,481.96 L537.35,481.86 L537.84,481.76 L538.32,481.66 L538.81,481.56 L539.30,481.46 L539.79,481.36 L540.28,481.26 L540.77,481.16 L541.25,481.06 L541.74,480.95 L542.23,480.85 L542.72,480.75 L543.21,480.65 L543.69,480.55 L544.18,480.45 L544.67,480.35 L545.16,480.25 L545.65,480.14 L546.13,480.04 L546.62,479.94 L547.11,479.84 L547.60,479.74 L548.09,479.64 L548.57,479.54 L549.06,479.44 L549.55,479.34 L550.04,479.24 L550.53,479.13 L551.01,479.03 L551.50,478.93 L551.99,478.83 L552.48,478.73 L552.97,478.63 L553.45,478.53 L553.94,478.43 L554.43,478.33 L554.92,478.24 L555.41,478.14 L555.90,478.04 L556.38,477.94 L556.87,477.84 L557.36,477.74 L557.85,477.64 L558.34,477.54 L558.83,477.45 L559.31,477.35 L559.80,477.25 L560.29,477.15 L560.78,477.06 L561.27,476.96 L561.76,476.86 L562.25,476.77 L562.74,476.67 L563.22,476.58 L563.71,476.48 L564.20,476.39 L564.69,476.29 L565.18,476.20 L565.67,476.10 L566.16,476.01 L566.65,475.91 L567.14,475.82 L567.63,475.73 L568.12,475.64 L568.61,475.54 L569.10,475.45 L569.59,475.36 L570.08,475.27 L570.57,475.18 L571.06,475.09 L571.55,475.00 L572.04,474.91 L572.53,474.82 L573.02,474.73 L573.51,474.64 L574.01,474.55 L574.50,474.47 L574.99,474.38 L575.48,474.29 L575.97,474.21 L576.46,474.12 L576.95,474.04 L577.45,473.95 L577.94,473.87 L578.43,473.78 L578.92,473.70 L579.42,473.62 L579.91,473.54 L580.40,473.45 L580.89,473.37 L581.39,473.29 L581.88,473.21 L582.37,473.13 L582.87,473.05 L583.36,472.98 L583.85,472.90 L584.35,472.82 L584.84,472.74 L585.34,472.67 L585.83,472.59 L586.32,472.51 L586.82,472.44 L587.31,472.36 L587.81,472.29 L588.30,472.22 L588.80,472.14 L589.29,472.07 L589.79,472.00 L590.28,471.93 L590.78,471.85 L591.28,471.78 L591.77,471.71 L592.27,471.64 L592.76,471.57 L593.26,471.50 L593.75,471.43 L594.25,471.37 L594.75,471.30 L595.24,471.23 L595.74,471.16 L596.24,471.10 L596.73,471.03 L597.23,470.97 L597.73,470.90 L598.22,470.84 L598.72,470.77 L599.22,470.71 L599.71,470.64 L600.21,470.58 L600.71,470.52 L601.21,470.45 L601.70,470.39 L602.20,470.33 L602.70,470.27 L603.20,470.21 L603.69,470.15 L604.19,470.09 L604.69,470.03 L605.19,469.97 L605.69,469.91 L606.18,469.85 L606.68,469.79 L607.18,469.73 L607.68,469.68 L608.18,469.62 L608.68,469.56 L609.18,469.51 L609.67,469.45 L610.17,469.39 L610.67,469.34 L611.17,469.28 L611.67,469.23 L612.17,469.17 L612.67,469.12 L613.17,469.07 L613.66,469.01 L614.16,468.96 L614.66,468.91 L615.16,468.85 L615.66,468.80 L616.16,468.75 L616.66,468.70 L617.16,468.65 L617.66,468.60 L618.16,468.55 L618.66,468.50 L619.16,468.45 L619.65,468.40 L620.15,468.35 L620.65,468.30 L621.15,468.25 L621.65,468.20 L622.15,468.15 L622.65,468.10 L623.15,468.06 L623.65,468.01 L624.15,467.96 L624.65,467.91 L625.15,467.87 L625.65,467.82 L626.15,467.77 L626.65,467.73 L627.15,467.68 L627.65,467.64 L628.15,467.59 L628.65,467.55 L629.15,467.50 L629.65,467.46 L630.15,467.41 L630.65,467.37 L631.15,467.32 L631.64,467.28 L632.14,467.24 L632.64,467.19 L633.14,467.15 L633.64,467.11 L634.14,467.07 L634.64,467.02 L635.14,466.98 L635.64,466.94 L636.14,466.90 L636.64,466.85 L637.14,466.81 L637.64,466.77 L638.14,466.73 L638.64,466.69 L639.14,466.65 L639.64,466.61 L640.14,466.57 L640.63,466.53 L641.13,466.49 L641.63,466.45 L642.13,466.41 L642.63,466.37 L643.13,466.33 L643.63,466.29 L644.13,466.25 L644.63,466.21 L645.13,466.17 L645.62,466.14 L646.12,466.10 L646.62,466.06 L647.12,466.02 L647.62,465.98 L648.12,465.94 L648.62,465.91 L649.11,465.87 L649.61,465.83 L650.11,465.79 L650.61,465.76 L651.11,465.72 L651.61,465.68 L652.10,465.64 L652.60,465.61 L653.10,465.57 L653.60,465.53 L654.10,465.50 L654.59,465.46 L655.09,465.42 L655.59,465.39 L656.09,465.35 L656.58,465.31 L657.08,465.28 L657.58,465.24 L658.07,465.21 L658.57,465.17 L659.07,465.13 L659.57,465.10 L660.06,465.06 L660.56,465.03 L661.06,464.99 L661.55,464.95 L662.05,464.92 L662.54,464.88 L663.04,464.85 L663.54,464.81 L664.03,464.78 L664.53,464.74 L665.02,464.71 L665.52,464.67 L666.02,464.64 L666.51,464.60 L667.01,464.56 L667.50,464.53 L668.00,464.49 L668.49,464.46 L668.99,464.42 L669.48,464.39 L669.98,464.35 L670.47,464.32 L670.96,464.28 L671.46,464.25" stroke="#0000ff" stroke-width="3.4" fill="none" stroke-linejoin="round" stroke-linecap="butt"/>
<g font-family="'Liberation Sans', Arial, sans-serif" font-size="17" fill="#000" stroke="#000" stroke-width="0.3" text-anchor="middle">
<text x="74.20" y="602.9">0</text>
<text x="128.46" y="602.9">25</text>
<text x="182.73" y="602.9">50</text>
<text x="236.99" y="602.9">75</text>
<text x="291.25" y="602.9">100</text>
<text x="345.52" y="602.9">125</text>
<text x="399.78" y="602.9">150</text>
<text x="454.05" y="602.9">175</text>
<text x="508.31" y="602.9">200</text>
<text x="562.57" y="602.9">225</text>
<text x="616.84" y="602.9">250</text>
<text x="671.10" y="602.9">275</text>
</g>
<g font-family="'Liberation Sans', Arial, sans-serif" fill="#000" stroke="#000" stroke-width="0.3">
<text x="38.5" y="19.20" font-size="17">10</text>
<text x="57" y="9.00" font-size="11.6">0</text>
<text x="38.5" y="303.90" font-size="17">10</text>
<text x="57" y="293.70" font-size="11.6">−1</text>
<text x="38.5" y="588.60" font-size="17">10</text>
<text x="57" y="578.40" font-size="11.6">−2</text>
</g>
<text transform="translate(301,647.4) scale(1.025,1)" font-family="'Liberation Serif', 'Times New Roman', serif" font-size="30" fill="#000"><tspan font-style="italic">x</tspan> or <tspan font-style="italic">y,</tspan> km</text>
<text transform="translate(21.3,326.4) rotate(-90) scale(1.1,1)" font-family="'Liberation Serif', 'Times New Roman', serif" font-size="30" font-style="italic" fill="#000">Z</text>
<text transform="translate(21.3,310.2) rotate(-90)" font-family="'Liberation Serif', 'Times New Roman', serif" font-size="30" fill="#000">,</text>
<text transform="translate(21.4,294.4) rotate(-90) scale(1.08,0.98)" font-family="'Liberation Serif', 'Times New Roman', serif" font-size="30" fill="#000" stroke="#000" stroke-width="0.5">Ω</text>
<rect x="513.4" y="21.4" width="149.0" height="156.4" fill="#fff" stroke="#000" stroke-width="2.7" stroke-linejoin="round"/>
<path d="M523,49.3 H573" stroke="#000" stroke-width="7" stroke-dasharray="25.5 9.5" fill="none"/>
<path d="M523,99.4 H572.9" stroke="#000" stroke-width="3.5" fill="none"/>
<path d="M523,149.8 H572.9" stroke="#0000ff" stroke-width="3.5" fill="none"/>
<g font-family="'Liberation Sans', Arial, sans-serif" fill="#000" stroke="#000" stroke-width="0.35">
<text transform="translate(579.2,53.10) scale(0.9,1)" font-size="31.3" font-style="italic">Z</text>
<text x="597.2" y="68.70" font-size="23" font-style="italic">g</text>
<text transform="translate(579.2,103.20) scale(0.9,1)" font-size="31.3" font-style="italic">Z</text>
<text x="597.2" y="118.80" font-size="23" font-style="italic">xy</text>
<text x="620.6" y="103.70" font-size="29.8"><tspan font-size="31.2" dy="0.4">(</tspan><tspan font-style="italic" dy="-0.4" dx="-0.4">y</tspan><tspan font-size="31.2" dy="0.4" dx="0.7">)</tspan></text>
<text transform="translate(579.2,153.30) scale(0.9,1)" font-size="31.3" font-style="italic">Z</text>
<text x="597.2" y="168.90" font-size="23" font-style="italic">xy</text>
<text x="620.6" y="153.80" font-size="29.8"><tspan font-size="31.2" dy="0.4">(</tspan><tspan font-style="italic" dy="-0.4" dx="-0.4">x</tspan><tspan font-size="31.2" dy="0.4" dx="0.7">)</tspan></text>
</g>
</svg>
</body></html>
